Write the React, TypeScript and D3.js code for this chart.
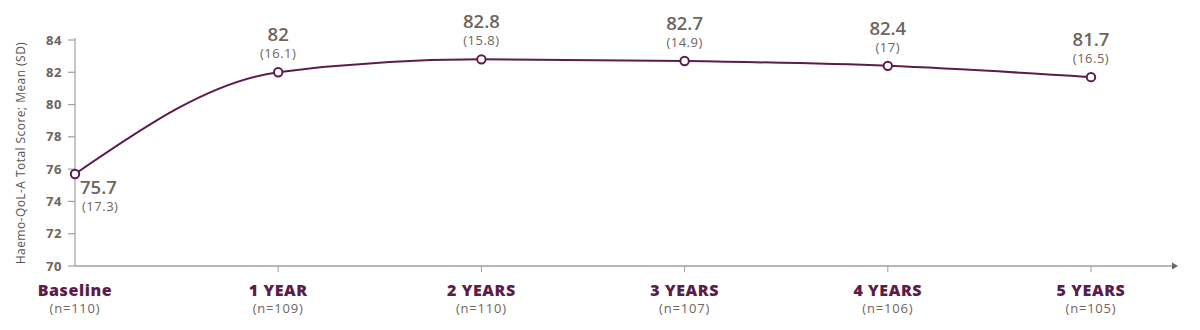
import React from "react";
import * as d3 from "d3";

const categories = ["Baseline", "1 YEAR", "2 YEARS", "3 YEARS", "4 YEARS", "5 YEARS"];
const nLabels = ["(n=110)", "(n=109)", "(n=110)", "(n=107)", "(n=106)", "(n=105)"];
const means = [75.7, 82, 82.8, 82.7, 82.4, 81.7];
const sds = ["17.3", "16.1", "15.8", "14.9", "17", "16.5"];
const yTicks = [70, 72, 74, 76, 78, 80, 82, 84];

const W = 1200, H = 330;
const purple = "#5b1c4d";
const gray = "#6e655d";
const axisGray = "#a39e99";
const font = "'Open Sans', sans-serif";

export default function App() {
  const x = d3.scalePoint<string>().domain(categories).range([75, 1091]);
  const y = d3.scaleLinear().domain([70, 84]).range([266, 40]);
  const pts = means.map((m, i) => [x(categories[i])!, y(m)] as [number, number]);
  const line = d3.line().curve(d3.curveMonotoneX)(pts) || "";
  return (
    <svg width={W} height={H} style={{ position: "absolute", left: 0, top: 0 }} fontFamily={font}>
      {/* y axis */}
      <line x1={75} x2={75} y1={38} y2={266} stroke={axisGray} strokeWidth={1.2} />
      {yTicks.map((t) => (
        <g key={t}>
          <line x1={68} x2={75} y1={y(t)} y2={y(t)} stroke={axisGray} strokeWidth={1.2} />
          <text x={62} y={y(t)} dy="0.35em" textAnchor="end" fontSize={13} fontWeight={700} letterSpacing={0.6} fill={gray}>
            {t}
          </text>
        </g>
      ))}
      {/* x axis */}
      <line x1={75} x2={1173} y1={266} y2={266} stroke={axisGray} strokeWidth={1.5} />
      <path d="M1172,262.5 L1178,266 L1172,269.5 Z" fill={gray} />
      {categories.map((c, i) => (
        <g key={c}>
          {i > 0 && <line x1={x(c)!} x2={x(c)!} y1={266} y2={272} stroke={axisGray} strokeWidth={1} />}
          <text x={x(c)!} y={296} textAnchor="middle" fontSize={16} fontWeight={800} letterSpacing={0.6} fill={purple}>
            {c}
          </text>
          <text x={x(c)!} y={313} textAnchor="middle" fontSize={13} letterSpacing={0.8} fill={gray}>
            {nLabels[i]}
          </text>
        </g>
      ))}
      <text
        transform="translate(25,153) rotate(-90)"
        textAnchor="middle"
        fontSize={12}
        letterSpacing={0.45}
        fill="#555"
      >
        Haemo-QoL-A Total Score; Mean (SD)
      </text>
      <path d={line} fill="none" stroke={purple} strokeWidth={2} />
      {pts.map(([px, py], i) => (
        <g key={i}>
          <circle cx={px} cy={py} r={4.2} fill="#fff" stroke={purple} strokeWidth={2} />
          {i === 0 ? (
            <>
              <text x={80} y={py + 20} fontSize={18.5} fontWeight={600} fill={gray}>
                {means[i]}
              </text>
              <text x={82} y={py + 37} fontSize={13} letterSpacing={0.5} fill={gray}>
                ({sds[i]})
              </text>
            </>
          ) : (
            <>
              <text x={px} y={py - 31} textAnchor="middle" fontSize={18.5} fontWeight={600} fill={gray}>
                {means[i]}
              </text>
              <text x={px} y={py - 14} textAnchor="middle" fontSize={13} letterSpacing={0.5} fill={gray}>
                ({sds[i]})
              </text>
            </>
          )}
        </g>
      ))}
    </svg>
  );
}
